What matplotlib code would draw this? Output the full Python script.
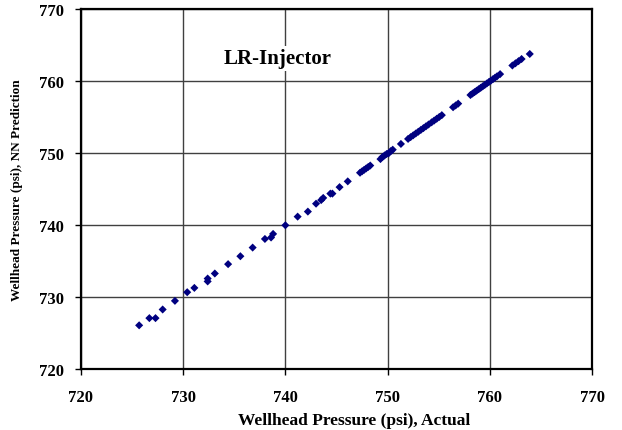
import matplotlib
matplotlib.use("Agg")
import matplotlib.pyplot as plt

# Wellhead pressure: measured vs. neural-network prediction (psi)
actual = [725.7, 726.7, 727.3, 728.0, 729.2, 730.4, 731.1, 732.4, 732.4, 733.1,
          734.4, 735.6, 736.8, 738.0, 738.6, 738.8, 740.0, 741.2, 742.2, 743.0,
          743.5, 743.7, 744.4, 744.6, 745.3, 746.1, 747.3, 747.5, 747.7, 747.9,
          748.1, 748.3, 749.3, 749.5, 749.7, 749.9, 750.1, 750.3, 750.5,
          751.3, 752.0, 752.25, 752.5, 752.75, 753.0, 753.25, 753.5, 753.75,
          754.0, 754.3, 754.55, 754.8, 755.05, 755.3, 756.4, 756.65, 756.9,
          758.1, 758.3, 758.5, 758.7, 758.9, 759.1, 759.3, 759.5, 759.7, 759.9,
          760.1, 760.3, 760.5, 760.7, 761.0, 762.2, 762.5, 762.8, 763.1, 763.9]
predicted = [726.1, 727.1, 727.1, 728.3, 729.5, 730.7, 731.3, 732.2, 732.6, 733.3,
             734.6, 735.7, 736.9, 738.1, 738.3, 738.8, 740.0, 741.2, 741.9, 743.0,
             743.5, 743.8, 744.4, 744.4, 745.3, 746.1, 747.3, 747.5, 747.7, 747.9,
             748.1, 748.3, 749.2, 749.5, 749.7, 749.9, 750.0, 750.3, 750.5,
             751.3, 752.0, 752.25, 752.5, 752.75, 753.0, 753.25, 753.5, 753.75,
             754.0, 754.3, 754.55, 754.8, 755.05, 755.3, 756.4, 756.65, 756.9,
             758.1, 758.3, 758.5, 758.7, 758.9, 759.1, 759.3, 759.5, 759.7, 759.9,
             760.1, 760.3, 760.5, 760.7, 761.0, 762.2, 762.5, 762.8, 763.1, 763.8]

ticks = [720, 730, 740, 750, 760, 770]
title = "LR-Injector"
xlabel = "Wellhead Pressure (psi), Actual"
ylabel = "Wellhead Pressure (psi), NN Prediction"

plt.rcParams["font.family"] = ["Liberation Serif", "DejaVu Serif"]
plt.rcParams["font.weight"] = "bold"

fig = plt.figure(figsize=(6.22, 4.31), dpi=100)
ax = fig.add_axes([0.130, 0.141, 0.822, 0.835])

ax.scatter(actual, predicted, marker="D", s=17, color="#000080",
           edgecolors="none", zorder=3)

ax.set_xlim(720, 770)
ax.set_ylim(720, 770)
ax.set_xticks(ticks)
ax.set_yticks(ticks)
ax.set_xticklabels([str(t) for t in ticks], fontsize=12, fontweight="bold")
ax.set_yticklabels([str(t) for t in ticks], fontsize=12, fontweight="bold")
ax.tick_params(axis="x", direction="out", length=4, width=1, pad=10)
ax.tick_params(axis="y", direction="out", length=4, width=1, pad=8)

ax.grid(True, color="#404040", linewidth=1)
ax.set_axisbelow(True)
for sp in ax.spines.values():
    sp.set_linewidth(1.6)
    sp.set_color("black")

ax.set_xlabel(xlabel, fontsize=12.5, fontweight="bold")
ax.xaxis.set_label_coords(0.534, -0.12)
ax.set_ylabel(ylabel, fontsize=9.5, fontweight="bold", labelpad=12)

ax.text(739.2, 763.2, title, fontsize=15, fontweight="bold",
        ha="center", va="center", zorder=4,
        bbox=dict(facecolor="white", edgecolor="none", pad=2))

fig.savefig("out.png", dpi=100)
